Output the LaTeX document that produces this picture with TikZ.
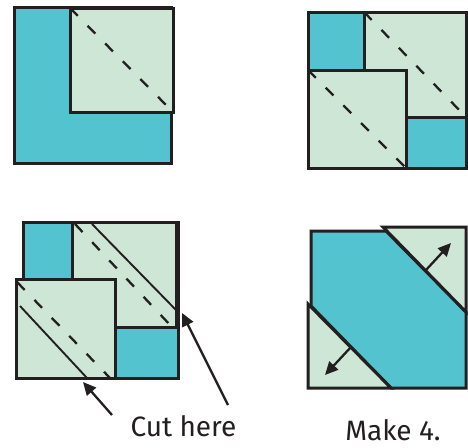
\documentclass[tikz,border=0pt]{standalone}
\usepackage{fontspec}
\setmainfont{Fira Sans}
\usetikzlibrary{arrows.meta}
\definecolor{quiltteal}{HTML}{52C3CF}
\definecolor{quiltpale}{HTML}{CDE6D6}
\definecolor{ink}{HTML}{231F20}

\begin{document}
\begin{tikzpicture}[
x=1pt,y=-1pt,
edge/.style={draw=ink,line width=3pt},
seam/.style={draw=ink,line width=2.3pt,dash pattern=on 11pt off 14pt},
cutline/.style={draw=ink,line width=1.9pt},
arr/.style={-{Triangle[length=13pt,width=12pt]},line width=2.3pt,color=ink},
lbl/.style={font=\fontsize{28}{30}\selectfont,text=ink,anchor=base,inner sep=0pt}
]
\useasboundingbox (0,0) rectangle (468,447);
% step 1
\filldraw[edge,fill=quiltteal] (14,7) rectangle (171,163);
\filldraw[edge,fill=quiltpale] (70,8) rectangle (173,112);
\draw[seam] (70,8) -- (173,112);
% step 2
\filldraw[edge,fill=quiltteal] (308,12) rectangle (466,168);
\filldraw[edge,fill=quiltpale] (364,12) rectangle (466,117);
\draw[seam] (364,12) -- (466,117);
\filldraw[edge,fill=quiltpale] (308,70) rectangle (406,168);
\draw[seam] (308,70) -- (406,168);
% step 3
\filldraw[edge,fill=quiltteal] (23,222) rectangle (178,378);
\filldraw[edge,fill=quiltpale] (72,222) rectangle (176,327);
\draw[seam] (75,224) -- (172,327);
\draw[cutline] (92,224) -- (176,310);
\filldraw[edge,fill=quiltpale] (16,279) rectangle (115,378);
\draw[seam] (17,282) -- (110,378);
\draw[cutline] (20,306) -- (87,378);
\node[lbl] (cut) at (183.5,436) {Cut here};
\coordinate (tailA) at (112,415);
\coordinate (tipA) at (83,382);
\coordinate (tailB) at (228,405);
\coordinate (tipB) at (182,313);
\draw[arr] (tailA) -- (tipA);
\draw[arr] (tailB) -- (tipB);
% step 4
\filldraw[edge,fill=quiltteal] (311,231) -- (386,231) -- (466,312) -- (466,388) -- (391,388) -- (311,306) -- cycle;
\filldraw[edge,fill=quiltpale] (383,227) -- (466,227) -- (466,312) -- cycle;
\filldraw[edge,fill=quiltpale] (308,304) -- (391,388) -- (308,388) -- cycle;
\coordinate (outA) at (426,270);
\coordinate (outAtip) at (451,243);
\coordinate (outB) at (351,347);
\coordinate (outBtip) at (325,375);
\draw[arr] (outA) -- (outAtip);
\draw[arr] (outB) -- (outBtip);
\node[lbl] (make) at (393,440) {Make 4.};
\end{tikzpicture}
\end{document}
